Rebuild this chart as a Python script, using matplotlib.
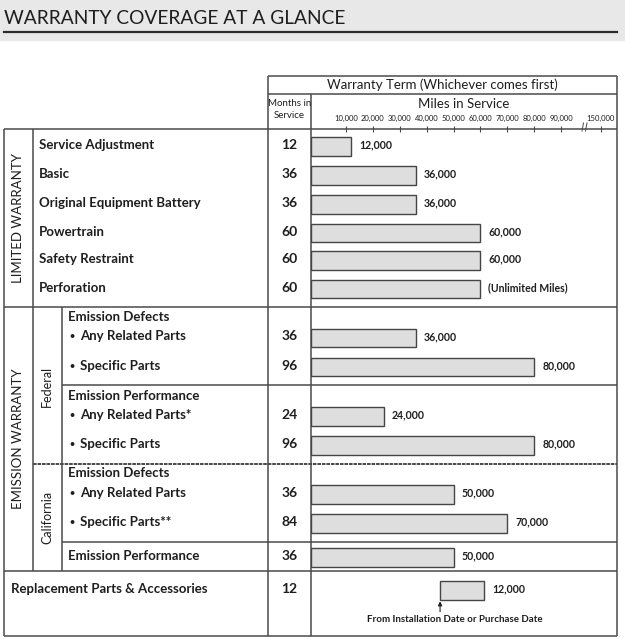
import matplotlib
matplotlib.use("Agg")
import matplotlib.pyplot as plt
from matplotlib.patches import Rectangle

W, H, DPI = 625, 639, 100

# ---- data ----
coverage_items = [
    "Service Adjustment", "Basic", "Original Equipment Battery", "Powertrain",
    "Safety Restraint", "Perforation",
    "Any Related Parts", "Specific Parts", "Any Related Parts*", "Specific Parts",
    "Any Related Parts", "Specific Parts**", "Emission Performance",
    "Replacement Parts & Accessories",
]
months_in_service = [12, 36, 36, 60, 60, 60, 36, 96, 24, 96, 36, 84, 36, 12]
miles_in_service = [12000, 36000, 36000, 60000, 60000, 60000,
                    36000, 80000, 24000, 80000, 50000, 70000, 50000, 12000]
miles_labels = ["12,000", "36,000", "36,000", "60,000", "60,000", "(Unlimited Miles)",
                "36,000", "80,000", "24,000", "80,000", "50,000", "70,000", "50,000", "12,000"]
mile_ticks = [10000, 20000, 30000, 40000, 50000, 60000, 70000, 80000, 90000, 104800]
mile_tick_labels = ["10,000", "20,000", "30,000", "40,000", "50,000", "60,000",
                    "70,000", "80,000", "90,000", "150,000"]
# replacement parts bar is drawn offset (starts at installation / purchase date)
replacement_start = 45000
replacement_span = 16300

# ---- layout (pixel rows) ----
row_y = [145, 174, 203, 231.5, 259, 287.5, 336.5, 365.5, 415, 444, 493, 522, 556, 589]
item_x = [39] * 6 + [80] * 6 + [68, 11]
bullets = [False] * 6 + [True] * 6 + [False, False]

TXT = "#1e1e1e"
LINE = "#4a4a4a"
FONT = ["Lato", "DejaVu Sans"]
NARROW = ["Liberation Sans Narrow", "Lato", "DejaVu Sans"]

fig = plt.figure(figsize=(W / DPI, H / DPI), dpi=DPI)
base = fig.add_axes([0, 0, 1, 1])
base.set_xlim(0, W)
base.set_ylim(H, 0)
base.axis("off")

# title band
base.add_patch(Rectangle((0, 0), W, 40, color="#e8e8e8", zorder=0))
base.plot([4, 617], [32, 32], color="#2a2a2a", lw=1.6)
base.text(4, 18, "WARRANTY COVERAGE AT A GLANCE", family=FONT, fontsize=13.8,
          color=TXT, va="center", ha="left")

# table grid
hlines = [(76, 268, 617), (94, 268, 617), (129, 4, 617), (307, 4, 617),
          (385, 62, 617), (542, 62, 617), (571, 4, 617), (636, 4, 617)]
for y, x1, x2 in hlines:
    base.plot([x1, x2], [y, y], color=LINE, lw=1.1, solid_capstyle="butt")
base.plot([33, 617], [464, 464], color="#3a3a3a", lw=1.3, ls=(0, (2, 0.5)))
vlines = [(4, 129, 636), (33, 129, 571), (62, 307, 571), (268, 76, 636),
          (311, 94, 636), (617, 76, 636)]
for x, y1, y2 in vlines:
    base.plot([x, x], [y1, y2], color=LINE, lw=1.1, solid_capstyle="butt")

# header text
base.text(442.5, 85, "Warranty Term (Whichever comes first)", family=FONT,
          fontsize=9.5, color=TXT, ha="center", va="center")
base.text(289.5, 103, "Months in", family=NARROW, fontsize=7, color=TXT,
          ha="center", va="center")
base.text(289.5, 116, "Service", family=NARROW, fontsize=7, color=TXT,
          ha="center", va="center")
base.text(464, 104, "Miles in Service", family=FONT, fontsize=9.5, color=TXT,
          ha="center", va="center")

# section labels
base.text(18, 218, "LIMITED WARRANTY", family=FONT, fontsize=9.5, color=TXT,
          rotation=90, ha="center", va="center")
base.text(18, 439, "EMISSION WARRANTY", family=FONT, fontsize=9.5, color=TXT,
          rotation=90, ha="center", va="center")
base.text(47, 386, "Federal", family=FONT, fontsize=9, color=TXT,
          rotation=90, ha="center", va="center")
base.text(47, 517, "California", family=FONT, fontsize=9, color=TXT,
          rotation=90, ha="center", va="center")
for y, label in [(317, "Emission Defects"), (395.5, "Emission Performance"),
                 (473, "Emission Defects")]:
    base.text(68, y, label, family=FONT, fontsize=9.5, weight="bold", color=TXT,
              ha="left", va="center")

# row labels and months
for item, m, x, y, b in zip(coverage_items, months_in_service, item_x, row_y, bullets):
    if b:
        base.text(72, y + 0.5, "\u2022", family=FONT, fontsize=6.5, weight="bold",
                  color=TXT, ha="center", va="center")
    base.text(x, y, item, family=FONT, fontsize=9.5, weight="bold", color=TXT,
              ha="left", va="center")
    base.text(289.5, y, str(m), family=FONT, fontsize=10, weight="bold",
              color=TXT, ha="center", va="center")

# scale break marks
for bx in (582, 585.5):
    base.plot([bx, bx + 1.5], [131, 123], color=LINE, lw=0.7)

# bars
x0, x1 = -3000, 110800
ax = fig.add_axes([311 / W, 1 - 636 / H, (617 - 311) / W, (636 - 129) / H])
ax.set_xlim(x0, x1)
ax.set_ylim(636, 129)
ax.patch.set_alpha(0)
for s in ax.spines.values():
    s.set_visible(False)

bar_y = [y + 1.5 for y in row_y]
ax.barh(bar_y[:-1], [v - x0 for v in miles_in_service[:-1]], left=x0, height=18.5,
        color="#dedede", edgecolor="#454545", lw=1.0)
ax.barh(bar_y[-1], replacement_span, left=replacement_start, height=18.5,
        color="#dedede", edgecolor="#454545", lw=1.0)

ends = miles_in_service[:-1] + [replacement_start + replacement_span]
for v, lab, y in zip(ends, miles_labels, row_y):
    ax.text(v + 3000, y, lab, family=FONT, fontsize=7.6, weight="bold", color=TXT,
            ha="left", va="center")

ax.annotate("", xy=(replacement_start, bar_y[-1] + 8), xytext=(replacement_start, bar_y[-1] + 24),
            arrowprops=dict(arrowstyle="-|>", color="#222222", lw=0.8, mutation_scale=6))
ax.text(replacement_start + 5500, 619, "From Installation Date or Purchase Date",
        family=NARROW, fontsize=7, weight="bold", color=TXT, ha="center", va="center")

ax.xaxis.tick_top()
ax.set_xticks(mile_ticks, mile_tick_labels)
for t in ax.get_xticklabels():
    t.set_family(NARROW)
    t.set_fontsize(5.5)
    t.set_color(TXT)
ax.tick_params(axis="x", direction="inout", length=4.5, width=0.8, pad=2.5, colors=LINE,
               labelcolor=TXT)
ax.set_yticks([])

fig.savefig("out.png", dpi=DPI)
